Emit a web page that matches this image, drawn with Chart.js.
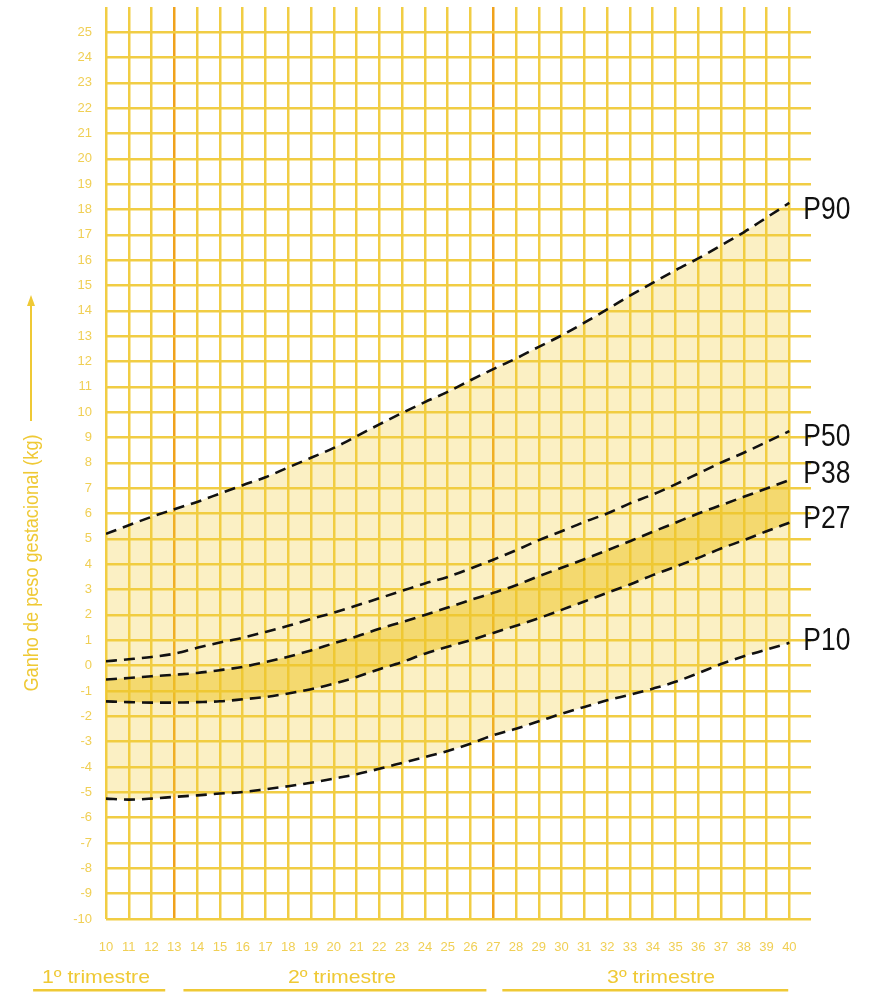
<!DOCTYPE html>
<html>
<head>
<meta charset="utf-8">
<script src="https://cdn.jsdelivr.net/npm/chart.js@4/dist/chart.umd.min.js"></script>
<style>
  html, body { margin: 0; padding: 0; background: #ffffff; }
  #wrap { width: 872px; height: 992px; }
</style>
</head>
<body>
<div id="wrap"><canvas id="c" width="872" height="992"></canvas></div>
<script>
// Gestational week (x) and weight gain percentiles in kg (y)
const weeks = [10, 11, 12, 13, 14, 15, 16, 17, 18, 19, 20, 21, 22, 23, 24, 25,
               26, 27, 28, 29, 30, 31, 32, 33, 34, 35, 36, 37, 38, 39, 40];
const p90 = [5.2, 5.54, 5.87, 6.17, 6.46, 6.79, 7.12, 7.43, 7.82, 8.2, 8.59, 9.05, 9.52, 9.97, 10.4, 10.8,
             11.26, 11.7, 12.12, 12.58, 13.03, 13.53, 14.06, 14.6, 15.1, 15.6, 16.07, 16.58, 17.1, 17.68, 18.26];
const p50 = [0.17, 0.25, 0.34, 0.47, 0.7, 0.91, 1.1, 1.33, 1.57, 1.84, 2.09, 2.37, 2.66, 2.95, 3.24, 3.5,
             3.83, 4.18, 4.55, 4.95, 5.3, 5.67, 6.0, 6.4, 6.75, 7.15, 7.58, 8.01, 8.4, 8.82, 9.25];
const p38 = [-0.55, -0.49, -0.42, -0.36, -0.29, -0.18, -0.05, 0.14, 0.35, 0.6, 0.88, 1.15, 1.45, 1.72, 2.0, 2.29,
             2.59, 2.87, 3.17, 3.53, 3.86, 4.2, 4.55, 4.91, 5.28, 5.64, 6.0, 6.33, 6.66, 6.99, 7.32];
const p27 = [-1.41, -1.44, -1.46, -1.46, -1.44, -1.41, -1.33, -1.24, -1.1, -0.93, -0.71, -0.45, -0.14, 0.14, 0.47, 0.74,
             1.0, 1.29, 1.57, 1.87, 2.2, 2.53, 2.87, 3.2, 3.57, 3.9, 4.25, 4.62, 4.95, 5.3, 5.64];
const p10 = [-5.25, -5.29, -5.25, -5.18, -5.12, -5.05, -4.99, -4.88, -4.76, -4.62, -4.46, -4.29, -4.07, -3.84, -3.61, -3.37,
             -3.08, -2.75, -2.49, -2.2, -1.9, -1.63, -1.37, -1.15, -0.91, -0.64, -0.3, 0.06, 0.37, 0.63, 0.9];

const yTicks = [];
for (let v = -10; v <= 25; v++) yTicks.push(v);
const trimesterWeeks = [13, 27];
const trimesterNames = ['1º trimestre', '2º trimestre', '3º trimestre'];
const yTitle = 'Ganho de peso gestacional (kg)';

const GRID = '#f1cd44';
const ORANGE = '#f0a21c';
const LABEL = '#f0cf55';
const TITLE = '#efc935';
const FONT = "'Liberation Sans', Arial, sans-serif";

const pts = arr => weeks.map((w, i) => ({ x: w, y: arr[i] }));

const lineStyle = {
  borderColor: '#111111',
  borderWidth: 2.6,
  borderDash: [11, 7],
  pointRadius: 0,
  tension: 0.4,
  cubicInterpolationMode: 'monotone'
};

// percentile tags at the right end of each curve (pixel nudges)
const tagOffsets = { P90: 7, P50: 6, P38: -6, P27: -4, P10: -2 };

// draws text squeezed horizontally so that it spans a given width
function narrowText(ctx, text, x, y, size, width, align) {
  ctx.font = size + 'px ' + FONT;
  const w = ctx.measureText(text).width;
  const k = width / w;
  ctx.save();
  ctx.translate(x, y);
  ctx.scale(k, 1);
  ctx.textAlign = align;
  ctx.textBaseline = 'middle';
  ctx.fillText(text, 0, 0);
  ctx.restore();
}

const sidePlugin = {
  id: 'sideText',
  afterDraw(chart) {
    const ctx = chart.ctx;
    const xs = chart.scales.x;
    ctx.save();

    // percentile tags
    ctx.fillStyle = '#111111';
    chart.data.datasets.forEach((ds, i) => {
      const meta = chart.getDatasetMeta(i);
      const last = meta.data[meta.data.length - 1];
      narrowText(ctx, ds.label, last.x + 14, last.y + (tagOffsets[ds.label] || 0), 32, 47, 'left');
    });

    // vertical axis title with arrow
    ctx.fillStyle = TITLE;
    ctx.strokeStyle = TITLE;
    ctx.save();
    ctx.translate(32, 563);
    ctx.rotate(-Math.PI / 2);
    narrowText(ctx, yTitle, 0, 0, 21, 257, 'center');
    ctx.restore();
    ctx.lineWidth = 2;
    ctx.beginPath();
    ctx.moveTo(31, 421);
    ctx.lineTo(31, 302);
    ctx.stroke();
    ctx.beginPath();
    ctx.moveTo(31, 295);
    ctx.lineTo(27, 306);
    ctx.lineTo(35, 306);
    ctx.closePath();
    ctx.fill();

    // trimester captions with underlines
    const spans = [
      { from: 6.8, to: 12.6, mid: 9.56 },
      { from: 13.4, to: 26.7, mid: 20.36 },
      { from: 27.4, to: 39.95, mid: 34.37 }
    ];
    spans.forEach((s, i) => {
      narrowText(ctx, trimesterNames[i], xs.getPixelForValue(s.mid), 978, 19, 108, 'center');
      ctx.fillRect(xs.getPixelForValue(s.from), 989, xs.getPixelForValue(s.to) - xs.getPixelForValue(s.from), 2.5);
    });
    ctx.restore();
  }
};

new Chart(document.getElementById('c'), {
  type: 'line',
  data: {
    datasets: [
      Object.assign({ label: 'P38', data: pts(p38), fill: 1, backgroundColor: 'rgba(236, 196, 40, 0.55)' }, lineStyle),
      Object.assign({ label: 'P27', data: pts(p27), fill: false }, lineStyle),
      Object.assign({ label: 'P50', data: pts(p50), fill: false }, lineStyle),
      Object.assign({ label: 'P10', data: pts(p10), fill: false }, lineStyle),
      Object.assign({ label: 'P90', data: pts(p90), fill: 3, backgroundColor: 'rgba(242, 205, 60, 0.30)' }, lineStyle)
    ]
  },
  options: {
    responsive: false,
    animation: false,
    layout: { padding: { left: 0, right: 61, top: 7, bottom: 0 } },
    plugins: {
      legend: { display: false },
      tooltip: { enabled: false },
      filler: { drawTime: 'beforeDatasetsDraw' }
    },
    scales: {
      x: {
        type: 'linear',
        min: 10,
        max: 40.95,
        afterFit(scale) {
          scale.height = 73;
          scale.paddingLeft = 0; scale.paddingRight = 0;
        },
        border: { display: false },
        grid: {
          drawTicks: false,
          lineWidth: 2.5,
          color: c => (trimesterWeeks.includes(c.tick && c.tick.value) ? ORANGE : GRID)
        },
        ticks: {
          stepSize: 1,
          includeBounds: false,
          autoSkip: false,
          maxRotation: 0,
          padding: 21,
          color: LABEL,
          font: { family: FONT, size: 13 },
          callback: v => (weeks.includes(v) ? String(v) : '')
        }
      },
      y: {
        type: 'linear',
        min: -10,
        max: 25.99,
        afterFit(scale) {
          scale.width = 106;
          scale.paddingTop = 0; scale.paddingBottom = 0;
        },
        border: { display: false },
        grid: { drawTicks: false, lineWidth: 2.5, color: GRID },
        ticks: {
          stepSize: 1,
          includeBounds: false,
          autoSkip: false,
          padding: 14,
          color: LABEL,
          font: { family: FONT, size: 13 },
          callback: v => (yTicks.includes(v) ? String(v) : '')
        }
      }
    }
  },
  plugins: [sidePlugin]
});
</script>
</body>
</html>
